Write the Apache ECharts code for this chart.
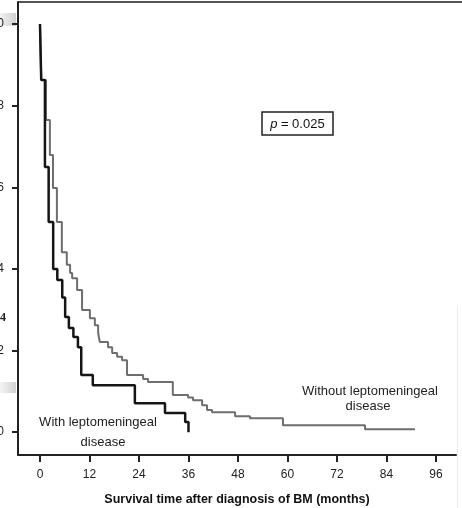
<!DOCTYPE html>
<html>
<head>
<meta charset="utf-8">
<script src="https://cdn.jsdelivr.net/npm/echarts@6/dist/echarts.min.js"></script>
<style>
html,body{margin:0;padding:0;background:#fff;}
#c{width:462px;height:508px;}
</style>
</head>
<body>
<div id="c"></div>
<script>
// Kaplan-Meier steps: [month, survival after the drop]
var withLM = [[0,1.0],[0.3,0.863],[1.2,0.650],[2.1,0.515],[3.2,0.400],[4.2,0.373],[5.4,0.330],[6.1,0.282],[7.0,0.255],[8.1,0.233],[9.2,0.208],[10.0,0.140],[12.8,0.115],[23.0,0.071],[30.3,0.047],[35.2,0.025],[36.0,0.0]];
var withoutLM = [[0,1.0],[0.3,0.863],[1.45,0.765],[2.4,0.679],[3.15,0.598],[4.1,0.515],[5.3,0.441],[6.5,0.410],[7.3,0.390],[7.8,0.377],[9.0,0.348],[10.2,0.299],[12.1,0.279],[13.3,0.262],[14.1,0.243],[14.5,0.221],[16.5,0.208],[17.5,0.194],[18.7,0.185],[19.9,0.176],[21.1,0.140],[25.0,0.130],[26.2,0.123],[32.2,0.091],[35.9,0.085],[37.1,0.078],[39.3,0.066],[40.5,0.054],[41.7,0.049],[47.3,0.039],[50.9,0.034],[58.9,0.017],[78.8,0.007],[90.9,0.007]];
var xTicks = [0,12,24,36,48,60,72,84,96];
var yTicks = [0,0.2,0.4,0.6,0.8,1.0];
var xTitle = 'Survival time after diagnosis of BM (months)';
var pText = '= 0.025';
var labelWith = ['With leptomeningeal','disease'];
var labelWithout = ['Without leptomeningeal','disease'];
var strayMark = '4';

var FONT = "'Liberation Sans Narrow','Liberation Sans',Arial,sans-serif";
var chart = echarts.init(document.getElementById('c'));
chart.setOption({
  animation:false,
  backgroundColor:'#fff',
  grid:{left:18,right:6,top:2,bottom:53,containLabel:false,outerBoundsMode:'none'},
  xAxis:{
    type:'value', min:-5.33, max:100.85,
    splitLine:{show:false},
    axisLine:{show:true,onZero:false,lineStyle:{color:'#222',width:2}},
    axisTick:{show:true,customValues:xTicks,length:7,lineStyle:{color:'#222',width:2}},
    axisLabel:{customValues:xTicks,color:'#222',fontSize:12,fontFamily:FONT,margin:14},
    name:xTitle, nameLocation:'middle', nameGap:38,
    nameTextStyle:{fontFamily:FONT,fontWeight:'bold',fontSize:12.5,color:'#111'}
  },
  yAxis:{
    type:'value', min:-0.056, max:1.054,
    splitLine:{show:false},
    axisLine:{show:true,onZero:false,lineStyle:{color:'#222',width:2}},
    axisTick:{show:true,customValues:yTicks,length:6,lineStyle:{color:'#222',width:2}},
    axisLabel:{customValues:yTicks,color:'#222',fontSize:12,fontFamily:FONT,margin:14,
      formatter:function(v){return v.toFixed(1);}}
  },
  series:[
    {type:'line',step:'end',data:withoutLM,symbol:'none',lineStyle:{color:'#6e6e6e',width:2},z:2},
    {type:'line',step:'end',data:withLM,symbol:'none',lineStyle:{color:'#151515',width:2.5},z:3}
  ],
  graphic:[
    {type:'line',shape:{x1:18,y1:2,x2:462,y2:2},style:{stroke:'#555',lineWidth:2}},
    {type:'rect',shape:{x:0,y:13,width:16,height:13},style:{fill:new echarts.graphic.LinearGradient(0,0,1,0,[{offset:0,color:'#f2f2f2'},{offset:1,color:'#cfcfcf'}])}},
    {type:'rect',shape:{x:0,y:382,width:16,height:11},style:{fill:new echarts.graphic.LinearGradient(0,0,1,0,[{offset:0,color:'#f4f4f4'},{offset:1,color:'#d2d2d2'}])}},
    {type:'line',shape:{x1:457.5,y1:305,x2:457.5,y2:508},style:{stroke:'#ececec',lineWidth:1}},
    {type:'text',x:0,y:318,style:{text:strayMark,align:'left',verticalAlign:'middle',fontSize:12,fontWeight:'bold',fontFamily:'Liberation Serif,serif',fill:'#222'}},
    {type:'rect',shape:{x:262,y:112,width:71,height:23},style:{fill:'#fff',stroke:'#222',lineWidth:1.5}},
    {type:'text',x:297.5,y:124,style:{
      text:'{i|p} {n|'+pText+'}',align:'center',verticalAlign:'middle',
      rich:{i:{fontStyle:'italic',fontSize:13,fontFamily:FONT,fill:'#111'},n:{fontSize:13,fontFamily:FONT,fill:'#111'}}}},
    {type:'text',x:98,y:422,style:{text:labelWith[0],align:'center',verticalAlign:'middle',fontSize:13,fontFamily:FONT,fill:'#222'}},
    {type:'text',x:103,y:442,style:{text:labelWith[1],align:'center',verticalAlign:'middle',fontSize:13,fontFamily:FONT,fill:'#222'}},
    {type:'text',x:370,y:391,style:{text:labelWithout[0],align:'center',verticalAlign:'middle',fontSize:13,fontFamily:FONT,fill:'#222'}},
    {type:'text',x:368,y:406,style:{text:labelWithout[1],align:'center',verticalAlign:'middle',fontSize:13,fontFamily:FONT,fill:'#222'}}
  ]
});
</script>
</body>
</html>
